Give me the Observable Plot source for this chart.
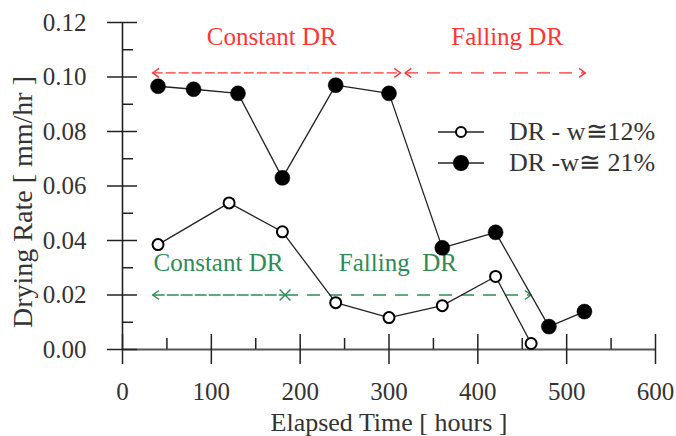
<!DOCTYPE html>
<html><head><meta charset="utf-8">
<script src="https://cdn.jsdelivr.net/npm/d3@7"></script>
<script src="https://cdn.jsdelivr.net/npm/@observablehq/plot@0.6"></script>
<style>
body{margin:0;background:#fff;}
#wrap{position:relative;width:676px;height:436px;font-family:"Liberation Serif",serif;}
#legend{position:absolute;left:437px;top:116px;font-size:26px;color:#333;line-height:31px;}
.row{display:flex;align-items:center;height:31px;}
.row svg{display:block;}
.row span{margin-left:24px;white-space:pre;}
</style></head><body><div id="wrap"></div>
<script>
// ---- data ----
const timeW12 = [40, 120, 180, 240, 300, 360, 420, 460];
const rateW12 = [0.0385, 0.0538, 0.0432, 0.0172, 0.0117, 0.0161, 0.0268, 0.0022];
const timeW21 = [40, 80, 130, 180, 240, 300, 360, 420, 480, 520];
const rateW21 = [0.0966, 0.0955, 0.094, 0.063, 0.097, 0.094, 0.0373, 0.043, 0.0084, 0.0139];
const seriesNames = ["DR - w\u224512%", "DR -w\u2245 21%"];
const xMajorTicks = [0, 100, 200, 300, 400, 500, 600];
const xMinorTicks = [50, 150, 250, 350, 450, 550];
const yMajorTicks = [0, 0.02, 0.04, 0.06, 0.08, 0.10, 0.12];
const yMinorTicks = [0.01, 0.03, 0.05, 0.07, 0.09, 0.11];
const phaseLabels = ["Constant DR", "Falling DR", "Constant DR", "Falling  DR"];
const phaseLabelX = [168, 433, 108, 310];
const phaseLabelY = [0.1145, 0.1145, 0.0319, 0.0319];
const phaseGroup = ["w21", "w21", "w12", "w12"];
const arrowX1 = [34, 318, 34, 183];
const arrowX2 = [313, 521, 183, 460];
const arrowY = [0.1015, 0.1015, 0.02, 0.02];
const xLabel = "Elapsed Time [ hours ]";
const yLabel = "Drying Rate [ mm/hr ]";

const RED = "#ff3535", GREEN = "#2e8b57";
const w12 = timeW12.map((t, i) => ({t, r: rateW12[i]}));
const w21 = timeW21.map((t, i) => ({t, r: rateW21[i]}));
const labels = phaseLabels.map((s, i) => ({s, x: phaseLabelX[i], y: phaseLabelY[i], g: phaseGroup[i]}));
const arrows = arrowX1.map((x1, i) => ({x1, x2: arrowX2[i], y: arrowY[i]}));

const chevron = {
  draw(ctx, size) {
    const s = Math.sqrt(size / Math.PI);
    ctx.moveTo(-s * 1.4, -s); ctx.lineTo(0, 0); ctx.lineTo(-s * 1.4, s);
  }
};
const head = (pts, color, rot) => Plot.dot(pts, {x: "x", y: "y", symbol: chevron, r: 4.5, fill: "none", stroke: color, strokeWidth: 1.4, rotate: rot});
const noText = () => "";
const a = arrows;
const plot = Plot.plot({
  width: 676, height: 436,
  marginLeft: 122, marginRight: 21, marginTop: 22, marginBottom: 87,
  x: {domain: [0, 600]},
  y: {domain: [0, 0.12]},
  style: {fontFamily: "Liberation Serif, serif", color: "#333", background: "white"},
  marks: [
    // arrows
    Plot.link([a[0]], {x1: "x1", x2: "x2", y1: "y", y2: "y", stroke: RED, strokeWidth: 1.4, strokeDasharray: "10,3"}),
    Plot.link([a[1]], {x1: "x1", x2: "x2", y1: "y", y2: "y", stroke: RED, strokeWidth: 1.4, strokeDasharray: "13,9"}),
    Plot.link([a[2]], {x1: "x1", x2: "x2", y1: "y", y2: "y", stroke: GREEN, strokeWidth: 1.4, strokeDasharray: "12,2"}),
    Plot.link([a[3]], {x1: "x1", x2: "x2", y1: "y", y2: "y", stroke: GREEN, strokeWidth: 1.4, strokeDasharray: "13,9"}),
    head([{x: a[0].x1, y: a[0].y}, {x: a[1].x1, y: a[1].y}], RED, 180),
    head([{x: a[0].x2, y: a[0].y}, {x: a[1].x2, y: a[1].y}], RED, 0),
    head([{x: a[2].x1, y: a[2].y}], GREEN, 180),
    head([{x: a[3].x2, y: a[3].y}], GREEN, 0),
    Plot.dot([{x: a[2].x2, y: a[2].y}], {x: "x", y: "y", symbol: "times", r: 5, stroke: GREEN, strokeWidth: 1.4}),
    Plot.text(labels, {x: "x", y: "y", text: "s", fill: d => d.g === "w21" ? RED : GREEN, fontSize: 25, lineAnchor: "middle"}),
    // axes
    Plot.ruleY([0], {stroke: "#555", strokeWidth: 2}),
    Plot.ruleX([0], {stroke: "#222", strokeWidth: 1.6}),
    Plot.axisY(yMajorTicks, {anchor: "left", tickSize: 15, tickPadding: 21, tickFormat: d3.format(".2f"), fontSize: 25, label: null, stroke: "#222", strokeWidth: 1.5}),
    Plot.axisY(yMajorTicks, {anchor: "left", tickSize: 15, dx: 15, tickFormat: noText, label: null, stroke: "#222", strokeWidth: 1.5}),
    Plot.axisY(yMinorTicks, {anchor: "left", tickSize: 11, dx: 11, tickFormat: noText, label: null, stroke: "#222", strokeWidth: 1.5}),
    Plot.axisX(xMajorTicks, {anchor: "bottom", tickSize: 15, tickPadding: 18, tickFormat: d3.format("d"), fontSize: 25, label: null, stroke: "#222", strokeWidth: 1.5}),
    Plot.axisX(xMajorTicks, {anchor: "bottom", tickSize: 15, dy: -15, tickFormat: noText, label: null, stroke: "#222", strokeWidth: 1.5}),
    Plot.axisX(xMinorTicks, {anchor: "bottom", tickSize: 11, dy: -11, tickFormat: noText, label: null, stroke: "#222", strokeWidth: 1.5}),
    Plot.text([xLabel], {frameAnchor: "bottom", dy: 81, lineAnchor: "bottom", fontSize: 26, fill: "#333"}),
    Plot.text([yLabel], {frameAnchor: "left", textAnchor: "middle", dx: -91, dy: 16, rotate: -90, lineAnchor: "bottom", fontSize: 28, fill: "#333"}),
    // data
    Plot.line(w12, {x: "t", y: "r", stroke: "#222", strokeWidth: 1.3}),
    Plot.line(w21, {x: "t", y: "r", stroke: "#222", strokeWidth: 1.3}),
    Plot.dot(w12, {x: "t", y: "r", r: 5.5, fill: "white", stroke: "black", strokeWidth: 2}),
    Plot.dot(w21, {x: "t", y: "r", r: 7.5, fill: "black", stroke: "black", strokeWidth: 0.5})
  ]
});
const wrap = document.getElementById("wrap");
wrap.appendChild(plot);
const leg = document.createElement("div");
leg.id = "legend";
const sym = (filled) => `<svg width="48" height="20" viewBox="0 0 48 20"><line x1="1" x2="47" y1="10" y2="10" stroke="#222" stroke-width="1.5"/><circle cx="24" cy="10" r="${filled ? 7 : 5}" fill="${filled ? "black" : "white"}" stroke="black" stroke-width="2"/></svg>`;
leg.innerHTML = seriesNames.map((n, i) => `<div class="row">${sym(i === 1)}<span>${n}</span></div>`).join("");
wrap.appendChild(leg);
</script>
</body></html>
